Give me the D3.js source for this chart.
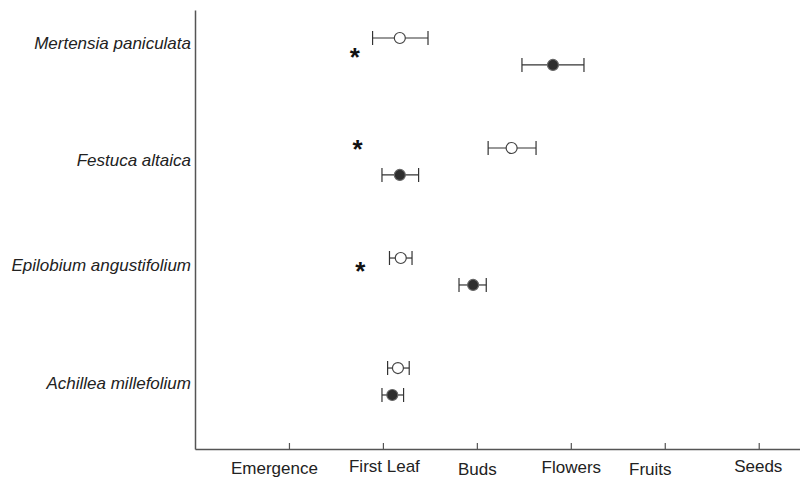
<!DOCTYPE html>
<html>
<head>
<meta charset="utf-8">
<script src="https://cdn.jsdelivr.net/npm/d3@7"></script>
<style>
  body { margin: 0; background: #fff; }
  svg { display: block; font-family: "Liberation Sans", Arial, sans-serif; }
</style>
</head>
<body>
<svg id="canvas" width="800" height="479"></svg>
<script>
let stages = ["Emergence", "First Leaf", "Buds", "Flowers", "Fruits", "Seeds"]
// the original labels sit a little off their ticks
let stageShiftX = [-15, 1, 0, 0, -15, -1]
let stageShiftY = [1, -1, 2, 0, 2, -1]

let species = ["Mertensia paniculata", "Festuca altaica", "Epilobium angustifolium", "Achillea millefolium"]

// open circles
let openMean = [2.18, 3.37, 2.19, 2.16]
let openLow = [1.89, 3.12, 2.07, 2.05]
let openHigh = [2.48, 3.63, 2.31, 2.28]

// filled circles
let filledMean = [3.81, 2.18, 2.96, 2.10]
let filledLow = [3.48, 1.99, 2.81, 1.99]
let filledHigh = [4.14, 2.38, 3.10, 2.22]

// significance markers (row, stage value, row offset)
let starRow = [0, 1, 2]
let starX = [1.70, 1.73, 1.76]
let starOffset = [0.165, 0.0, 0.107]

let labelOffset = [0.045, 0.11, 0.064, 0.136]

let canvas = d3.select("#canvas")

let xScale = d3.scaleLinear()
    .domain([0, 6.45])
    .range([195, 801])

let yScale = d3.scaleLinear()
    .domain([-0.2545, 3.736])
    .range([10, 449])

let rowGap = 0.245

let drawAxes = () => {
    let xAxis = d3.axisBottom(xScale)
        .tickValues([1, 2, 3, 4, 5, 6])
        .tickFormat((d) => stages[d - 1])
        .tickSizeInner(-6)
        .tickSizeOuter(0)
        .tickPadding(12)

    let gx = canvas.append("g")
        .attr("transform", "translate(0, 449)")
        .call(xAxis)

    gx.select(".domain").attr("stroke", "#555").attr("stroke-width", 1.5)
    gx.selectAll(".tick line").attr("stroke", "#555").attr("stroke-width", 1.2)
    gx.selectAll(".tick text")
        .attr("fill", "#222")
        .attr("x", (d) => stageShiftX[d - 1])
        .attr("y", (d) => 12 + stageShiftY[d - 1])
        .style("font-size", "17px")

    let yAxis = d3.axisLeft(yScale)
        .tickValues([])
        .tickSizeOuter(0)

    let gy = canvas.append("g")
        .attr("transform", "translate(195, 0)")
        .call(yAxis)

    gy.select(".domain").attr("stroke", "#555").attr("stroke-width", 1.5)
}

let drawLabels = () => {
    canvas.selectAll(".species")
        .data(species)
        .enter()
        .append("text")
        .attr("class", "species")
        .attr("x", 191)
        .attr("y", (d, i) => yScale(i + labelOffset[i]))
        .attr("dy", "0.35em")
        .attr("text-anchor", "end")
        .attr("fill", "#222")
        .style("font-style", "italic")
        .style("font-size", "17px")
        .text((d) => d)
}

let drawPoints = (means, lows, highs, offset, filled) => {
    let rows = means.map((m, i) => ({ row: i, mean: m, low: lows[i], high: highs[i] }))

    let g = canvas.append("g")
        .selectAll("g")
        .data(rows)
        .enter()
        .append("g")
        .attr("transform", (d) => "translate(0, " + yScale(d.row + offset) + ")")

    g.append("line")
        .attr("x1", (d) => xScale(d.low))
        .attr("x2", (d) => xScale(d.high))
        .attr("stroke", "#333")
        .attr("stroke-width", 1.2)

    g.append("line")
        .attr("x1", (d) => xScale(d.low))
        .attr("x2", (d) => xScale(d.low))
        .attr("y1", -7)
        .attr("y2", 7)
        .attr("stroke", "#333")
        .attr("stroke-width", 1.2)

    g.append("line")
        .attr("x1", (d) => xScale(d.high))
        .attr("x2", (d) => xScale(d.high))
        .attr("y1", -7)
        .attr("y2", 7)
        .attr("stroke", "#333")
        .attr("stroke-width", 1.2)

    g.append("circle")
        .attr("cx", (d) => xScale(d.mean))
        .attr("cy", 0)
        .attr("r", 5.5)
        .attr("fill", filled ? "#2e2e2e" : "#fff")
        .attr("stroke", filled ? "#666" : "#444")
        .attr("stroke-width", 1.2)
}

let drawStars = () => {
    canvas.selectAll(".star")
        .data(starRow)
        .enter()
        .append("text")
        .attr("class", "star")
        .attr("x", (d, i) => xScale(starX[i]))
        .attr("y", (d, i) => yScale(d + starOffset[i]))
        .attr("dy", 10)
        .attr("text-anchor", "middle")
        .attr("fill", "#111")
        .style("font-weight", "bold")
        .style("font-size", "26px")
        .text("*")
}

drawAxes()
drawLabels()
drawPoints(openMean, openLow, openHigh, 0, false)
drawPoints(filledMean, filledLow, filledHigh, rowGap, true)
drawStars()
</script>
</body>
</html>
